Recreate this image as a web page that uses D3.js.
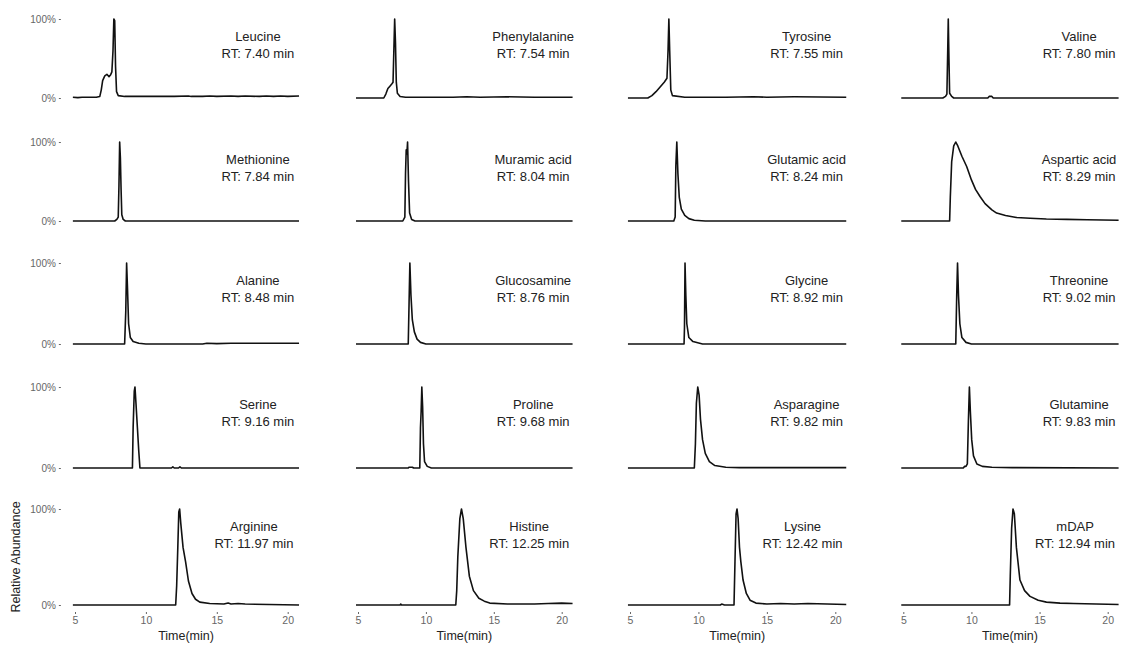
<!DOCTYPE html>
<html>
<head>
<meta charset="utf-8">
<script src="https://cdn.jsdelivr.net/npm/d3@7"></script>
<style>
  body { margin: 0; background: #fff; }
  svg { display: block; font-family: "Liberation Sans", Arial, sans-serif; }
</style>
</head>
<body>
<div id="chart"></div>
<script>
const WIDTH = 1122;
const HEIGHT = 648;

// compound names and retention times, in panel order (row by row)
const compounds = ["Leucine", "Phenylalanine", "Tyrosine", "Valine",
  "Methionine", "Muramic acid", "Glutamic acid", "Aspartic acid",
  "Alanine", "Glucosamine", "Glycine", "Threonine",
  "Serine", "Proline", "Asparagine", "Glutamine",
  "Arginine", "Histine", "Lysine", "mDAP"];
const retention = ["7.40", "7.54", "7.55", "7.80",
  "7.84", "8.04", "8.24", "8.29",
  "8.48", "8.76", "8.92", "9.02",
  "9.16", "9.68", "9.82", "9.83",
  "11.97", "12.25", "12.42", "12.94"];

const xTicks = [5, 10, 15, 20];
const yTicks = [0, 100];

// traces: [time (min), relative abundance (%)]
const leucine = [[4.85,1],[5.2,0.5],[5.5,1],[6.5,1],[6.75,2],[6.85,10],[6.95,22],[7.1,28],[7.25,30],[7.4,27],[7.5,29],[7.6,33],[7.68,60],[7.74,100],[7.8,98],[7.86,40],[7.93,8],[8.05,3],[8.5,2],[10,2],[11,2],[12,2],[13,2.5],[13.2,2],[14,2],[14.5,2.5],[15,2],[16,2.5],[16.5,2],[17,2.5],[18,2],[18.5,2.5],[19,2],[19.5,2.5],[20,2],[20.8,2.5]];
const phenylalanine = [[4.85,0],[6.9,0],[7.05,5],[7.2,12],[7.35,15],[7.5,18],[7.58,20],[7.64,60],[7.7,100],[7.76,70],[7.82,20],[7.9,6],[8.1,2],[8.5,1],[12,1],[13,1.5],[14,1],[16,1.5],[18,1],[20.8,1]];
const tyrosine = [[4.85,0],[6.3,0],[6.6,3],[6.9,8],[7.2,14],[7.5,20],[7.7,25],[7.78,60],[7.84,100],[7.9,60],[7.98,10],[8.1,3],[9,1],[12,1],[14,1.5],[15,1],[17,1.5],[20.8,1]];
const valine = [[4.85,0],[7.9,0],[8.1,2],[8.2,5],[8.26,60],[8.3,100],[8.35,50],[8.4,6],[8.55,2],[8.7,0],[11.2,0],[11.3,2],[11.5,2],[11.6,0],[20.8,0]];
const methionine = [[4.85,0],[7.8,0],[7.95,2],[8.05,5],[8.1,45],[8.15,100],[8.2,80],[8.25,40],[8.3,8],[8.4,2],[8.55,0],[20.8,0]];
const muramic = [[4.85,0],[8.3,0],[8.45,5],[8.5,60],[8.55,90],[8.6,85],[8.65,100],[8.72,50],[8.8,10],[8.95,2],[9.2,0],[20.8,0]];
const glutamic = [[4.85,0],[8.2,0],[8.3,5],[8.35,70],[8.42,100],[8.5,60],[8.6,30],[8.75,15],[9,7],[9.3,3],[9.7,1],[10.5,0],[20.8,0]];
const aspartic = [[4.85,0],[8.4,0],[8.45,30],[8.55,75],[8.7,95],[8.85,100],[9.0,95],[9.3,82],[9.65,69],[10.0,52],[10.3,40],[10.63,31],[11,22],[11.5,14],[11.85,10],[12.5,7],[13.3,4.5],[14.3,3.5],[15.5,2.5],[17,2],[18.5,1.5],[20.8,1]];
const alanine = [[4.85,0],[8.5,0],[8.58,40],[8.64,100],[8.7,70],[8.78,25],[8.9,8],[9.1,3],[9.5,1],[10,0],[14,0],[14.3,1],[15,0.5],[16,1],[17,1],[20.8,1]];
const glucosamine = [[4.85,0],[8.7,0],[8.76,50],[8.82,100],[8.9,60],[9,30],[9.15,15],[9.35,6],[9.6,2],[10,0],[20.8,0]];
const glycine = [[4.85,0],[8.95,0],[8.98,20],[9.02,100],[9.08,60],[9.15,25],[9.3,8],[9.6,3],[10.3,0],[20.8,0]];
const threonine = [[4.85,0],[8.85,0],[8.92,60],[8.98,100],[9.05,60],[9.15,25],[9.3,8],[9.6,2],[10,0],[20.8,0]];
const serine = [[4.85,0],[9.05,0],[9.1,50],[9.18,95],[9.23,100],[9.3,80],[9.4,50],[9.5,20],[9.58,0],[11.8,0],[11.9,1.5],[12.0,0],[12.3,0],[12.4,1.5],[12.5,0],[20.8,0]];
const proline = [[4.85,0],[8.7,0],[8.75,1],[9.0,1],[9.1,0],[9.55,0],[9.6,50],[9.65,70],[9.7,100],[9.76,75],[9.82,30],[9.9,8],[10.1,2],[10.4,0],[20.8,0]];
const asparagine = [[4.85,0],[9.7,0],[9.78,30],[9.85,80],[9.95,100],[10.05,90],[10.15,60],[10.3,35],[10.5,18],[10.8,8],[11.2,3],[12,1],[13,0.5],[20.8,0.5]];
const glutamine = [[4.85,0],[9.4,0],[9.5,2],[9.6,2],[9.7,5],[9.78,60],[9.85,100],[9.92,70],[10.02,35],[10.15,15],[10.4,5],[10.8,2],[11.5,1],[13,0.5],[20.8,0]];
const arginine = [[4.85,0],[12.1,0],[12.17,20],[12.25,60],[12.32,97],[12.38,100],[12.46,85],[12.62,60],[12.8,45],[13.0,25],[13.25,12],[13.5,6],[13.8,3],[14.5,1.5],[15.5,1],[15.8,2],[16,1],[16.5,1.5],[17,1],[20.8,0]];
const histine = [[4.85,0],[8.1,0],[8.15,1],[8.2,0],[12.2,0],[12.27,15],[12.35,50],[12.5,90],[12.62,100],[12.75,90],[12.95,60],[13.2,30],[13.5,15],[13.9,7],[14.3,4],[14.7,2],[16,1],[18,1],[19,1.5],[20,2],[20.8,1.5]];
const lysine = [[4.85,0],[11.6,0],[11.7,1],[11.9,0],[12.6,0],[12.67,45],[12.75,95],[12.82,100],[12.9,90],[13.0,60],[13.1,45],[13.26,26],[13.5,12],[13.77,5],[14.2,2],[15,1],[16,1.5],[17,1],[18,1.5],[20.8,0.5]];
const mdap = [[4.85,0],[12.8,0],[12.85,30],[12.95,80],[13.05,100],[13.15,95],[13.3,60],[13.56,26],[13.9,15],[14.3,9],[14.9,5],[15.5,3],[16.5,2],[17.5,1.5],[20.8,0.5]];

const traces = [leucine, phenylalanine, tyrosine, valine,
  methionine, muramic, glutamic, aspartic,
  alanine, glucosamine, glycine, threonine,
  serine, proline, asparagine, glutamine,
  arginine, histine, lysine, mdap];

// panel geometry: pixel positions of x=5 and x=20 per column, y=0% and 100% per row
const COLS = [[75, 287.7], [358, 561.7], [630, 835.3], [903.3, 1107.7]];
const ROWS = [[98, 19], [221, 142], [344, 263], [468, 387], [605, 509]];

const svg = d3.select("#chart").append("svg")
  .attr("width", WIDTH)
  .attr("height", HEIGHT);

const line_color = "#111";
const tick_color = "#666";

traces.forEach(function(data, i) {
  let col = i % 4;
  let row = Math.floor(i / 4);

  let x = d3.scaleLinear().domain([5, 20]).range(COLS[col]);
  let y = d3.scaleLinear().domain([0, 100]).range(ROWS[row]);

  let g = svg.append("g");

  // y axis only on first column
  if (col === 0) {
    let yAxis = g.append("g")
      .attr("transform", "translate(" + (x(4.85) - 12) + ",0)")
      .call(d3.axisLeft(y).tickValues(yTicks).tickSize(2).tickFormat(d => d + "%"));
    yAxis.select(".domain").remove();
    yAxis.selectAll("line").attr("stroke", tick_color);
    yAxis.selectAll("text").attr("fill", tick_color).style("font-size", "10px")
      .style("font-family", "Liberation Sans, Arial, sans-serif");
  }

  // x axis only on bottom row
  if (row === 4) {
    let xAxis = g.append("g")
      .attr("transform", "translate(0," + (y(0) + 7) + ")")
      .call(d3.axisBottom(x).tickValues(xTicks).tickSize(2));
    xAxis.select(".domain").remove();
    xAxis.selectAll("line").attr("stroke", tick_color);
    xAxis.selectAll("text").attr("fill", tick_color).style("font-size", "10.5px")
      .style("font-family", "Liberation Sans, Arial, sans-serif");

    g.append("text")
      .attr("x", x(12.83))
      .attr("y", y(0) + 35)
      .attr("text-anchor", "middle")
      .attr("fill", "#222")
      .style("font-size", "12.5px")
      .text("Time(min)");
  }

  g.append("path")
    .datum(data)
    .attr("fill", "none")
    .attr("stroke", line_color)
    .attr("stroke-width", 1.6)
    .attr("stroke-linejoin", "round")
    .attr("d", d3.line().x(d => x(d[0])).y(d => y(d[1])));

  // compound label
  let lx = x(17.9) - (row === 4 ? 4 : 0);
  g.append("text")
    .attr("x", lx)
    .attr("y", y(100) + 22)
    .attr("text-anchor", "middle")
    .attr("fill", "#222")
    .style("font-size", "13px")
    .text(compounds[i]);
  g.append("text")
    .attr("x", lx)
    .attr("y", y(100) + 39)
    .attr("text-anchor", "middle")
    .attr("fill", "#222")
    .style("font-size", "13px")
    .text("RT: " + retention[i] + " min");
});

svg.append("text")
  .attr("transform", "translate(20,557) rotate(-90)")
  .attr("text-anchor", "middle")
  .attr("fill", "#222")
  .style("font-size", "12.5px")
  .text("Relative Abundance");
</script>
</body>
</html>
